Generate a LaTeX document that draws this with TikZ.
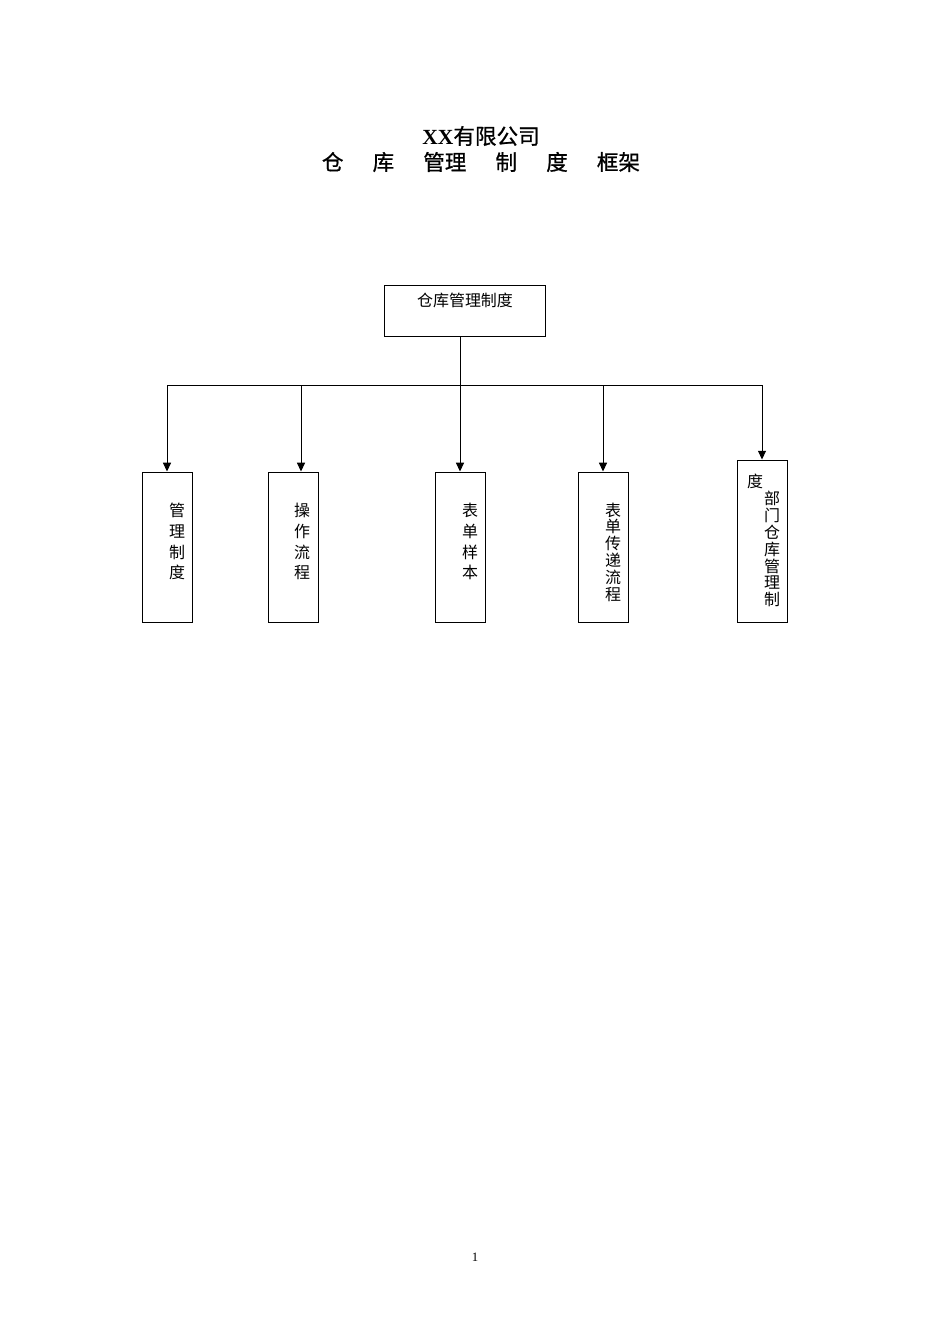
\documentclass[tikz,border=0pt]{standalone}
\usepackage{fontspec}
\setmainfont{Liberation Serif}
\newfontfamily\cjk{Noto Sans CJK SC}
\newfontfamily\cjkbold[FakeBold=0.8]{Noto Sans CJK SC}
\usetikzlibrary{arrows.meta}
\tikzset{
  box/.style={draw,line width=0.6pt,minimum width=31.3pt,minimum height=93.9pt,inner sep=0pt},
  vtext/.style={font=\cjk\fontsize{10}{13.1}\selectfont,align=center,inner sep=0pt},
  link/.style={line width=0.6pt,-{Triangle[length=5.5pt,width=5pt]}}
}
\begin{document}
\begin{tikzpicture}[x=0.626pt,y=-0.626pt]
        \useasboundingbox (0,0) rectangle (950,1344);
        % title
        \node (title) at (481,136) {\fontsize{13.5}{16}\selectfont\textbf{XX}\cjkbold 有限公司};
        \node (subtitle) at (481,162) {\cjkbold\fontsize{13.5}{16}\selectfont 仓\hspace{1.35em}库\hspace{1.35em}管理\hspace{1.35em}制\hspace{1.35em}度\hspace{1.35em}框架};
        % top box
        \node[draw,line width=0.6pt,minimum width=100.2pt,minimum height=31.9pt,inner sep=0pt] (top) at (465,310.5) {};
        \node[font=\cjk\fontsize{10}{12}\selectfont] (toptext) at (465,300) {仓库管理制度};
        % bus
        \coordinate (bus) at (460,385);
        \coordinate (b1) at (167,385);
        \coordinate (b2) at (301,385);
        \coordinate (b4) at (603,385);
        \coordinate (b5) at (762,385);
        \draw[line width=0.6pt] (top.south -| bus) -- (bus);
        \draw[line width=0.6pt] (b1) -- (b5);
        % boxes
        \node[box] (zd) at (167,547) {};
        \node[box] (lc) at (293,547) {};
        \node[box] (yb) at (460,547) {};
        \node[box] (cd) at (603,547) {};
        \node[box,minimum height=101.4pt] (bm) at (762,541) {};
        \draw[link] (b1) -- (zd.north);
        \draw[link] (b2) -- (b2 |- lc.north);
        \draw[link] (bus) -- (yb.north);
        \draw[link] (b4) -- (cd.north);
        \draw[link] (b5) -- (bm.north);
        % texts
        \node[vtext] (t1) at (177,541.5) {管\\理\\制\\度};
        \node[vtext] (t2) at (302,541.5) {操\\作\\流\\程};
        \node[vtext] (t3) at (470,541.5) {表\\单\\样\\本};
        \node[vtext,font=\cjk\fontsize{10}{10.5}\selectfont] (t4) at (613,552) {表\\单\\传\\递\\流\\程};
        \node[vtext] (t5a) at (755,481) {度};
        \node[vtext,font=\cjk\fontsize{10}{10.6}\selectfont] (t5) at (772,549) {部\\门\\仓\\库\\管\\理\\制};
        % page number
        \node[font=\fontsize{8}{10}\selectfont] (page) at (475,1257) {1};
\end{tikzpicture}
\end{document}
